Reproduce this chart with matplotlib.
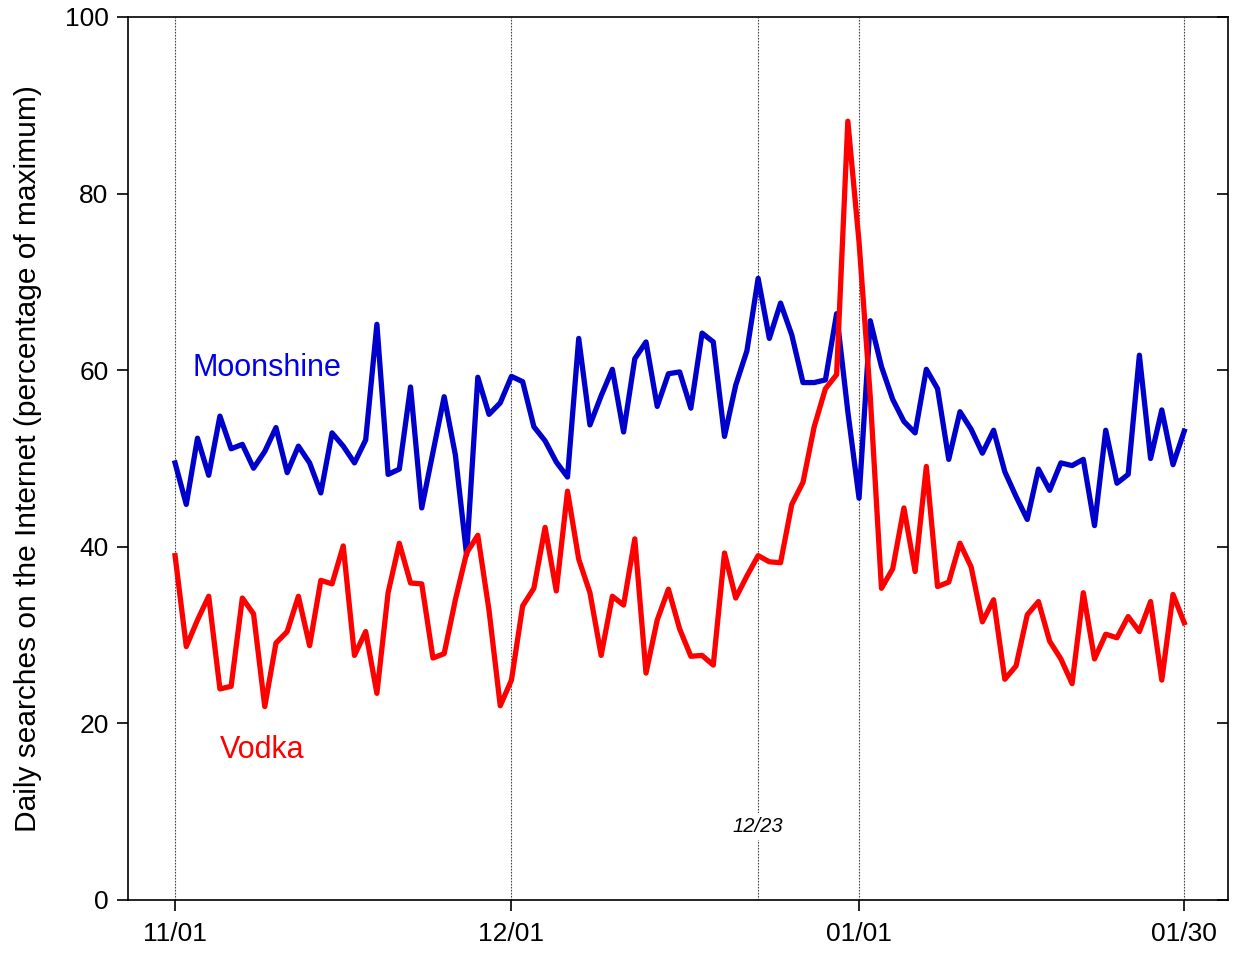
import matplotlib
matplotlib.use('Agg')
import matplotlib.pyplot as plt
import numpy as np
import pandas as pd

plt.rcParams['font.family'] = ['Liberation Sans', 'DejaVu Sans']

# Daily values, 11/01 through 01/30
dates = pd.date_range('2013-11-01', '2014-01-30', freq='D')

moonshine = [
    49.5, 44.8, 52.3, 48.1, 54.8, 51.1, 51.6, 48.9, 50.8, 53.5,
    48.4, 51.4, 49.5, 46.1, 52.9, 51.4, 49.5, 52.1, 65.2, 48.2,
    48.8, 58.1, 44.4, 50.7, 57.0, 50.4, 39.1, 59.2, 55.0, 56.3,
    59.3, 58.7, 53.6, 52.0, 49.6, 47.9, 63.6, 53.8, 57.1, 60.1,
    53.0, 61.3, 63.2, 55.9, 59.6, 59.8, 55.7, 64.2, 63.2, 52.5,
    58.3, 62.2, 70.4, 63.6, 67.6, 64.0, 58.6, 58.6, 58.9, 66.4,
    55.3, 45.5, 65.6, 60.4, 56.7, 54.2, 52.9, 60.1, 57.9, 49.9,
    55.3, 53.3, 50.6, 53.2, 48.5, 45.7, 43.1, 48.8, 46.4, 49.5,
    49.2, 49.9, 42.4, 53.2, 47.2, 48.2, 61.7, 50.0, 55.5, 49.3,
    53.1,
]

vodka = [
    39.0, 28.7, 31.7, 34.4, 23.9, 24.2, 34.2, 32.4, 21.9, 29.1,
    30.4, 34.4, 28.8, 36.2, 35.8, 40.1, 27.7, 30.4, 23.4, 34.8,
    40.4, 35.9, 35.8, 27.4, 27.9, 34.0, 39.3, 41.3, 32.8, 22.0,
    24.9, 33.3, 35.3, 42.2, 35.0, 46.3, 38.6, 34.8, 27.7, 34.4,
    33.4, 40.9, 25.7, 31.7, 35.2, 30.7, 27.6, 27.7, 26.6, 39.3,
    34.2, 36.7, 39.0, 38.3, 38.2, 44.8, 47.3, 53.6, 57.9, 59.5,
    88.2, 74.5, 57.0, 35.3, 37.5, 44.4, 37.2, 49.1, 35.5, 36.0,
    40.4, 37.7, 31.5, 34.0, 25.0, 26.5, 32.3, 33.8, 29.3, 27.3,
    24.5, 34.8, 27.3, 30.1, 29.7, 32.1, 30.4, 33.8, 24.9, 34.6,
    31.4,
]

marker_days = ['2013-11-01', '2013-12-01', '2013-12-23', '2014-01-01', '2014-01-30']
tick_days = ['2013-11-01', '2013-12-01', '2014-01-01', '2014-01-30']
tick_labels = ['11/01', '12/01', '01/01', '01/30']

fig = plt.figure(figsize=(12.34, 9.55), dpi=100)
ax = fig.add_axes([0.1037, 0.0576, 0.8914, 0.9246])

# thin dotted reference lines
for d in marker_days:
    ax.axvline(pd.Timestamp(d), color='#444444', linestyle=(0, (1.5, 1.2)),
               linewidth=0.8, zorder=1)

ax.plot(dates, moonshine, color='#0000CC', linewidth=3.8, zorder=3)
ax.plot(dates, vodka, color='#FF0000', linewidth=3.8, zorder=3)

ax.text(pd.Timestamp('2013-11-09 04:00'), 60.3, 'Moonshine', color='#0000EE',
        fontsize=22, ha='center', va='center')
ax.text(pd.Timestamp('2013-11-08 18:00'), 17.0, 'Vodka', color='#FF0000',
        fontsize=22, ha='center', va='center')
ax.text(pd.Timestamp('2013-12-23'), 8.3, '12/23', fontsize=14.5, style='italic',
        ha='center', va='center', zorder=2,
        bbox=dict(facecolor='white', edgecolor='none', pad=3))

ax.set_xlim(dates[0] - pd.Timedelta(days=4.2), dates[-1] + pd.Timedelta(days=3.9))
ax.set_ylim(0, 100)

ax.set_xticks([pd.Timestamp(d) for d in tick_days])
ax.set_xticklabels(tick_labels)
ax.set_yticks(np.arange(0, 101, 20))

ax.tick_params(axis='x', direction='out', length=8, width=1.2, labelsize=19, pad=8)
ax.tick_params(axis='y', direction='out', length=8, width=1.2, labelsize=19, pad=6)
ax.tick_params(axis='y', which='both', right=True, labelright=False)

# right-side ticks point inward
for t in ax.yaxis.get_major_ticks():
    t.tick2line.set_marker(matplotlib.markers.TICKLEFT)

for s in ax.spines.values():
    s.set_linewidth(1.2)

ax.set_ylabel('Daily searches on the Internet (percentage of maximum)', fontsize=21.5,
              labelpad=16)

fig.savefig('out.png', dpi=100)
